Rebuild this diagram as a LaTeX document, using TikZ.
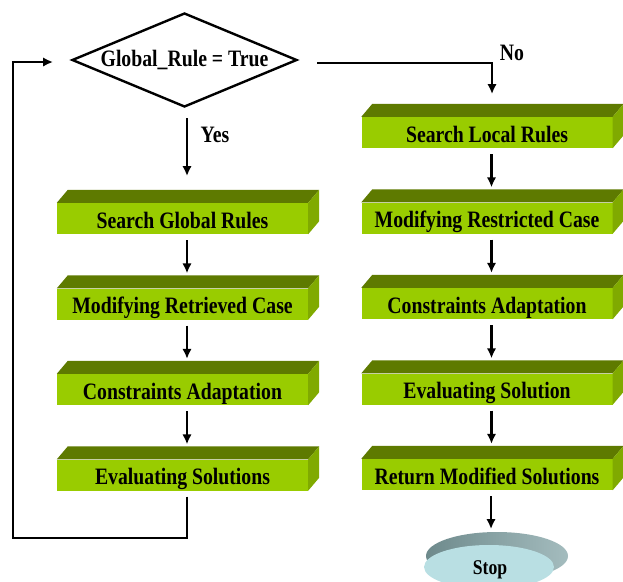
\documentclass[tikz,border=0pt]{standalone}
\usepackage{fontspec}
\setmainfont[FakeStretch=0.84]{Liberation Serif}
\usetikzlibrary{shapes.geometric,arrows.meta,calc}
\definecolor{gfront}{HTML}{99CC00}
\definecolor{gtop}{HTML}{5E7A00}
\definecolor{gside}{HTML}{80AA00}
\definecolor{stopface}{HTML}{B9DFE3}
\definecolor{stoptopL}{HTML}{6E8A8C}
\definecolor{stoptopR}{HTML}{A4BCBE}
\tikzset{
  gbox/.style={rectangle, fill=gfront, minimum width=251pt, minimum height=31pt, inner sep=0pt,
    text height=22pt, text depth=3pt,
    font=\fontsize{23.5}{26}\selectfont\bfseries},
  conn/.style={line width=2.4pt, -{Latex[length=10pt,width=9.5pt]}},
  plain/.style={line width=2.4pt},
  lbl/.style={font=\fontsize{23.5}{26}\selectfont\bfseries, inner sep=0pt},
}
\newcommand\depthbox[1]{%
  \fill[gtop] (#1.north west) -- ++(11pt,13pt) -- ($(#1.north east)+(11pt,13pt)$) -- (#1.north east) -- cycle;
  \fill[gside] (#1.north east) -- ++(11pt,13pt) -- ($(#1.south east)+(11pt,13pt)$) -- (#1.south east) -- cycle;
}
\begin{document}
\begin{tikzpicture}[x=1pt,y=-1pt]
\useasboundingbox (0,0) rectangle (623,581);
% decision
\node[diamond, draw, line width=2.4pt, minimum width=225pt, minimum height=94pt, inner sep=0pt, aspect=2.4,
  font=\fontsize{23.5}{26}\selectfont\bfseries] (dec) at (184.5,60) {Global\_Rule = True};
% left column
\node[gbox] (l1) at (182.5,218.5) {Search Global Rules};
\node[gbox] (l2) at (182.5,304) {Modifying Retrieved Case};
\node[gbox] (l3) at (182.5,389.5) {Constraints Adaptation};
\node[gbox] (l4) at (182.5,475) {Evaluating Solutions};
% right column
\node[gbox] (r1) at (487,132.5) {Search Local Rules};
\node[gbox] (r2) at (487,218) {Modifying Restricted Case};
\node[gbox] (r3) at (487,303.5) {Constraints Adaptation};
\node[gbox] (r4) at (487,389) {Evaluating Solution};
\node[gbox] (r5) at (487,474.5) {Return Modified Solutions};
\begin{scope}[y=1pt]
\foreach \n in {l1,l2,l3,l4,r1,r2,r3,r4,r5} {\depthbox{\n}}
\end{scope}
% stop
\shade[left color=stoptopL, right color=stoptopR] (497,556) ellipse [x radius=71, y radius=24];
\fill[stopface] (489,567) ellipse [x radius=65, y radius=22];
\node[lbl, font=\fontsize{21}{24}\selectfont\bfseries] (stop) at (490,570) {Stop};
\coordinate (stoptop) at (491,529);
% labels
\node[lbl] (yes) at (215,135) {Yes};
\node[lbl] (no) at (512,53) {No};
% connectors
\coordinate (yesstart) at (187,118);
\coordinate (l1top) at (187,176);
\draw[conn] (yesstart) -- (l1top);
\coordinate (nostart) at (317,63);
\coordinate (r1top) at (492,94);
\draw[conn] (nostart) -| (r1top);
\foreach \a/\b in {l1/l2,l2/l3,l3/l4} {
  \draw[conn] ($(\a.south)+(4.5,6)$) -- ($(\b.north)+(4.5,-15)$);
}
\foreach \a/\b in {r1/r2,r2/r3,r3/r4,r4/r5} {
  \draw[conn] ($(\a.south)+(4.5,6)$) -- ($(\b.north)+(4.5,-15)$);
}
\draw[conn] ($(r5.south)+(4,6)$) -- (stoptop);
% loop back
\coordinate (loopA) at (187,538);
\coordinate (loopB) at (13,538);
\coordinate (loopC) at (13,62);
\coordinate (loopEnd) at (53,62);
\draw[plain] ($(l4.south)+(4.5,6)$) -- (loopA) -- (loopB) -- (loopC);
\draw[conn] ([xshift=-1.2pt]loopC) -- (loopEnd);
\end{tikzpicture}
\end{document}
